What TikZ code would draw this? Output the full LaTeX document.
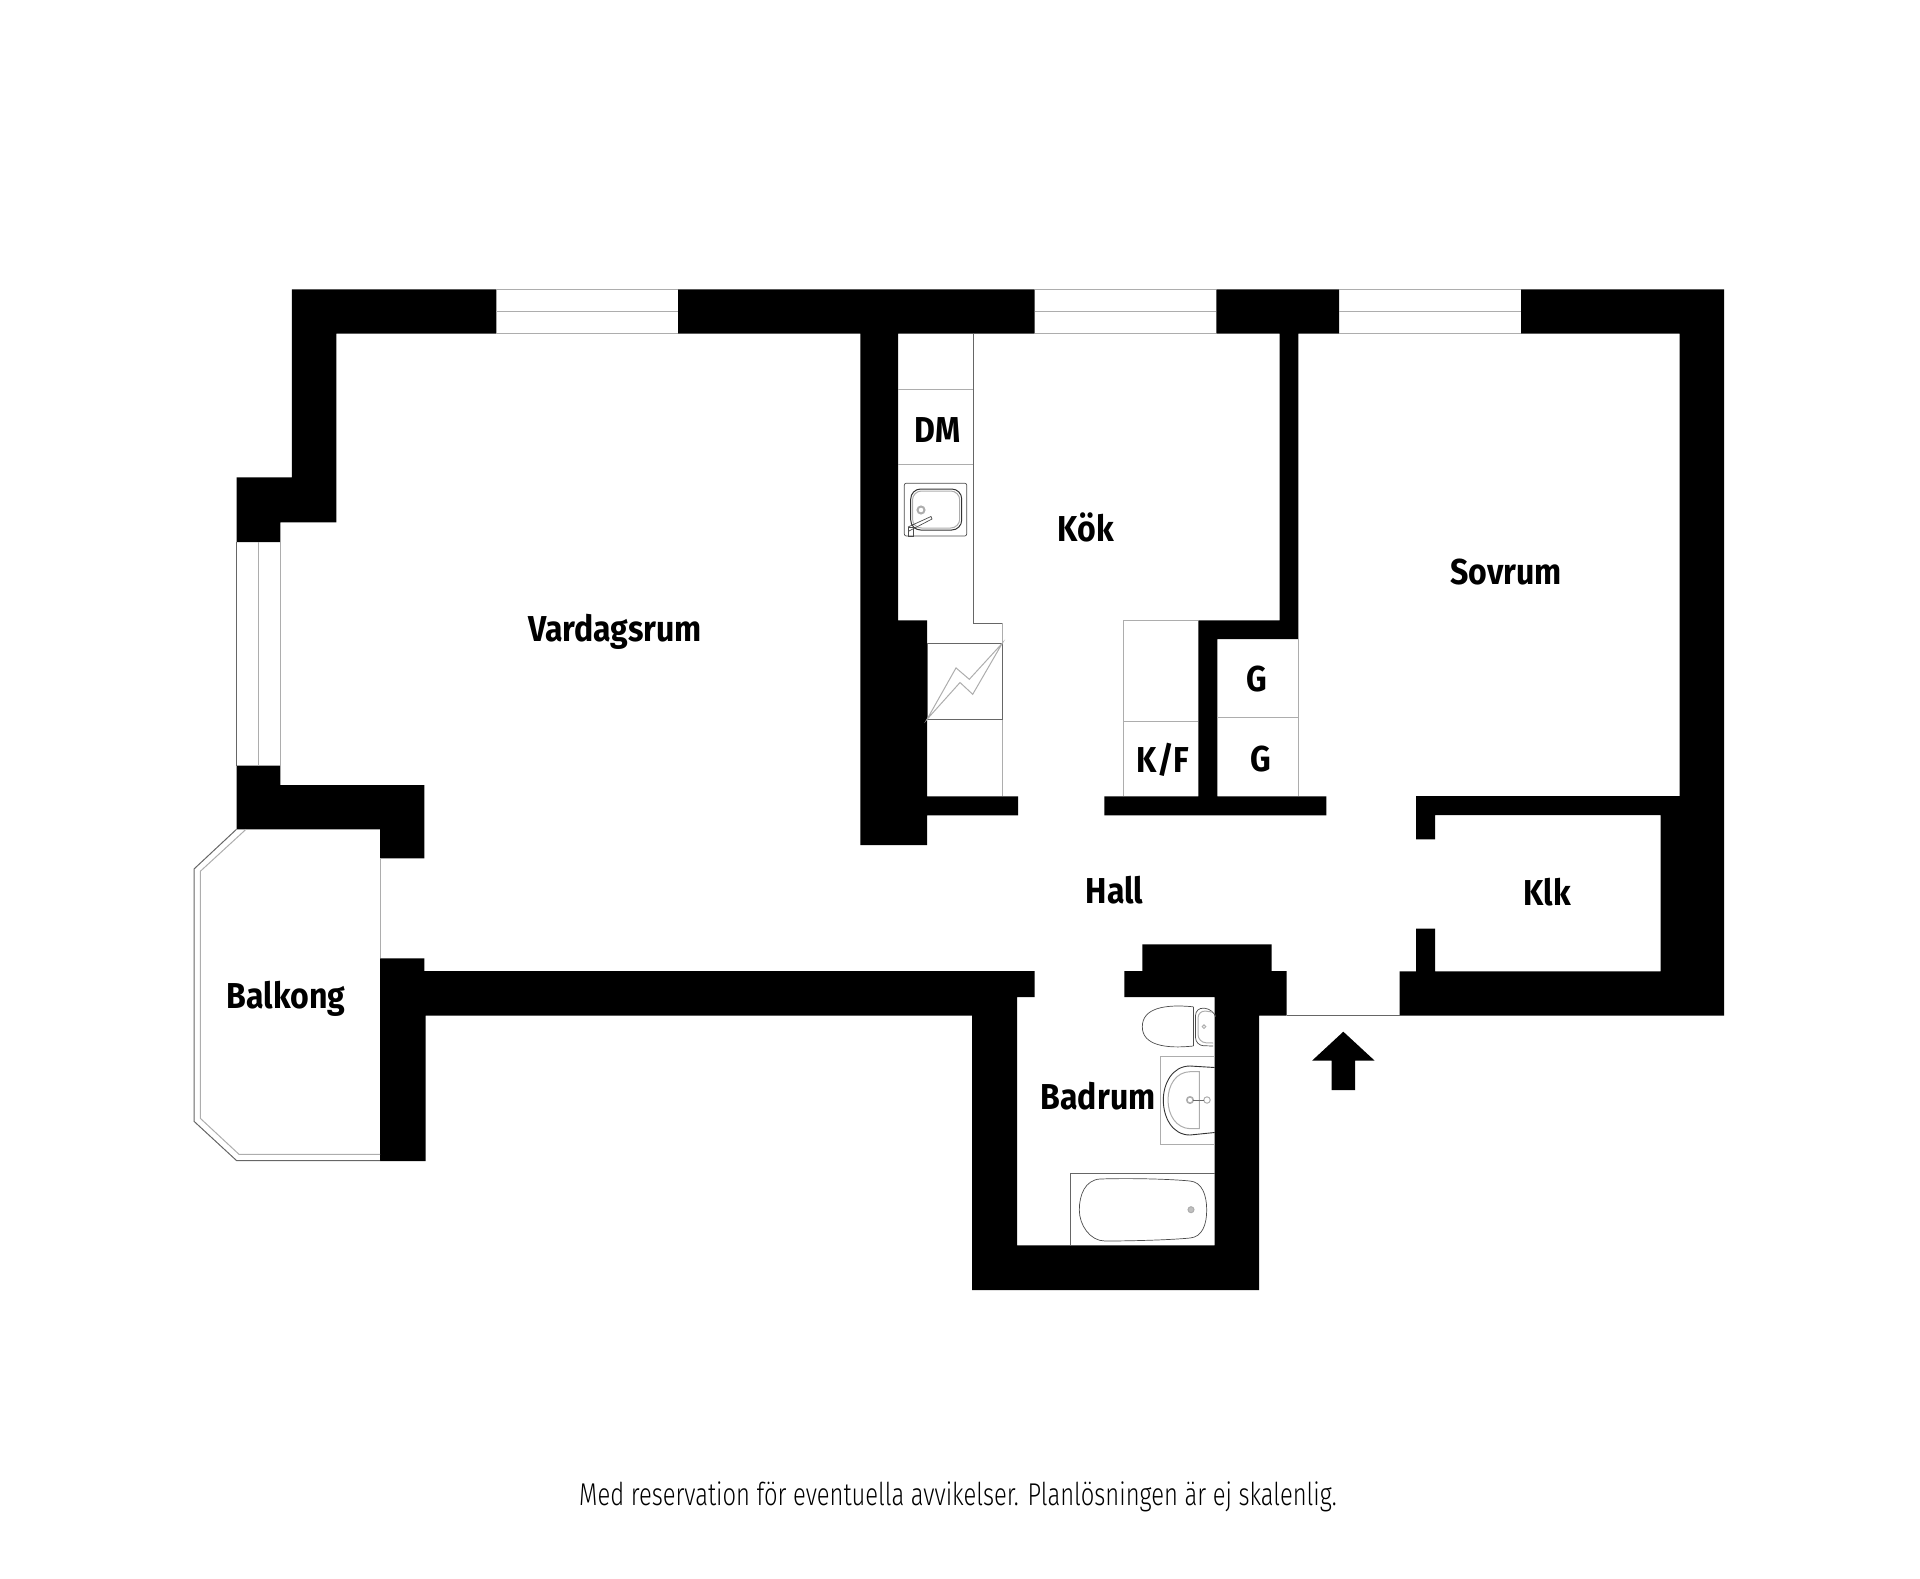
\documentclass[tikz,border=0pt]{standalone}
\usepackage{fontspec}
\newfontfamily\labelfont[FakeStretch=0.89]{Fira Sans}
\newfontfamily\footfont[FakeStretch=0.755]{Fira Sans Light}

\begin{document}
\begin{tikzpicture}[
	x=0.5pt, y=-0.5pt,
	wstyle/.style={fill=black},
	lstyle/.style={anchor=base, inner sep=0pt, font=\labelfont\bfseries\fontsize{18}{20}\selectfont},
	fstyle/.style={draw=black!32, line width=0.5pt},
	dstyle/.style={draw=black!60, line width=0.5pt},
	gstyle/.style={draw=black!70, line width=0.35pt}
	]
	\useasboundingbox (0,0) rectangle (1920,1578);

	% walls
	\fill[wstyle] (291.8,289.3) -- (496.3,289.3) -- (496.3,333.5) -- (336.3,333.5) -- (336.3,522.3) -- (280.4,522.3) -- (280.4,542) -- (236.5,542) -- (236.5,477.3) -- (291.8,477.3) -- cycle;
	\fill[wstyle] (236.5,765.7) -- (280.4,765.7) -- (280.4,785) -- (424.3,785) -- (424.3,858.3) -- (380,858.3) -- (380,829.3) -- (236.5,829.3) -- cycle;
	\fill[wstyle] (380,958.3) -- (424.3,958.3) -- (424.3,971) -- (1034.7,971) -- (1034.7,997) -- (1017,997) -- (1017,1245.3) -- (1214.7,1245.3) -- (1214.7,997) -- (1124.3,997) -- (1124.3,971) -- (1142.3,971) -- (1142.3,944.3) -- (1271.7,944.3) -- (1271.7,971) -- (1286.7,971) -- (1286.7,1015.7) -- (1259,1015.7) -- (1259,1290) -- (972,1290) -- (972,1015.7) -- (425.7,1015.7) -- (425.7,1161) -- (380,1161) -- cycle;
	\fill[wstyle] (678,289.3) -- (1034.7,289.3) -- (1034.7,333.5) -- (898,333.5) -- (898,620.4) -- (927,620.4) -- (927,796.4) -- (1018,796.4) -- (1018,815.4) -- (927,815.4) -- (927,845) -- (860.3,845) -- (860.3,333.5) -- (678,333.5) -- cycle;
	\fill[wstyle] (1216.3,289.3) -- (1339,289.3) -- (1339,333.5) -- (1298.3,333.5) -- (1298.3,639) -- (1217.3,639) -- (1217.3,796.4) -- (1326.3,796.4) -- (1326.3,815.4) -- (1104.3,815.4) -- (1104.3,796.4) -- (1198.3,796.4) -- (1198.3,620.4) -- (1279.7,620.4) -- (1279.7,333.5) -- (1216.3,333.5) -- cycle;
	\fill[wstyle] (1521,289.3) -- (1724,289.3) -- (1724,1015.7) -- (1399.7,1015.7) -- (1399.7,971.3) -- (1416,971.3) -- (1416,928.7) -- (1435,928.7) -- (1435,971.3) -- (1660.7,971.3) -- (1660.7,815) -- (1435,815) -- (1435,839.3) -- (1416,839.3) -- (1416,796) -- (1679.7,796) -- (1679.7,333.5) -- (1521,333.5) -- cycle;

	% windows
	\foreach \a/\b in {496.3/678, 1034.7/1216.3, 1339/1521} {
		\draw[fstyle] (\a,289.3) -- (\b,289.3);
		\draw[fstyle] (\a,311.6) -- (\b,311.6);
		\draw[fstyle] (\a,333.5) -- (\b,333.5);
	}
	\draw[dstyle] (236.5,542) -- (236.5,765.7);
	\draw[fstyle] (258.4,542) -- (258.4,765.7);
	\draw[fstyle] (280.4,542) -- (280.4,765.7);

	% balcony
	\draw[dstyle] (236.5,829.3) -- (194,869) -- (194,1121.3) -- (236.7,1160.7) -- (380,1160.7);
	\draw[fstyle] (246,829.3) -- (200.3,871.3) -- (200.3,1118.3) -- (239,1154.3) -- (380,1154.3);
	\draw[fstyle] (380,858.3) -- (380,958.3);

	% kitchen
	\draw[dstyle] (973.3,333.5) -- (973.3,623.2) -- (1002.3,623.2);
	\draw[fstyle] (898,389) -- (973.3,389);
	\draw[fstyle] (898,464.6) -- (973.3,464.6);
	\draw[fstyle] (1002.3,623.2) -- (1002.3,796.4);
	\draw[dstyle] (927,643.2) rectangle (1002.3,719.3);
	\draw[fstyle] (927,719.3) -- (956,667.9) -- (969.3,679.3) -- (1002.3,643.2) -- (972.7,694.3) -- (960,682.5) -- cycle;
	\draw[fstyle] (1123,796.4) -- (1123,620.4) -- (1198.3,620.4);
	\draw[fstyle] (1123,721) -- (1198.3,721);
	\draw[fstyle] (1298.3,639) -- (1298.3,796.4);
	\draw[fstyle] (1217.3,717.9) -- (1298.3,717.9);

	% kitchen sink
	\draw[gstyle, rounded corners=1pt] (904.3,483.2) rectangle (966.7,536);
	\draw[draw=black!80, line width=0.5pt, rounded corners=5pt] (910.7,489) rectangle (961.7,530);
	\draw[fstyle, rounded corners=4.5pt] (912.5,491) rectangle (959.7,528);
	\draw[fstyle, line width=1pt] (921,510) circle (3.5);
	\draw[gstyle] (908,527) -- (931,516.5) -- (932,519) -- (909,531);
	\draw[gstyle] (908,527) rectangle (913,536);

	% toilet
	\draw[gstyle] (1193.3,1006.8) .. controls (1165,1004) and (1142.3,1008) .. (1142.3,1026.7) .. controls (1142.3,1045) and (1165,1049) .. (1193.3,1046);
	\draw[gstyle] (1193.3,1006.8) -- (1193.3,1046);
	\draw[gstyle, rounded corners=4pt] (1213,1046) -- (1195.5,1045.5) -- (1195.5,1007.5) -- (1213,1009) -- (1214.7,1014);
	\draw[fstyle, rounded corners=4pt] (1213,1043) -- (1198,1042.5) -- (1198,1010) -- (1212,1012);
	\draw[fstyle] (1204,1026.7) circle (1.8);

	% basin
	\draw[fstyle] (1214.7,1056.7) -- (1160.3,1056.7) -- (1160.3,1144.3) -- (1214.7,1144.3);
	\draw[draw=black!80, line width=0.45pt] (1214.7,1067.5) -- (1190,1066) .. controls (1172,1066) and (1163.3,1084) .. (1163.3,1100) .. controls (1163.3,1117) and (1172,1135) .. (1190,1135) -- (1214.7,1132.5);
	\draw[fstyle] (1199.3,1071.7) -- (1190,1071.7) .. controls (1176,1072) and (1168,1085) .. (1168,1100) .. controls (1168,1115) and (1176,1128) .. (1190,1128.7) -- (1199.3,1128.7) -- cycle;
	\draw[fstyle, line width=0.8pt] (1190,1100) circle (3.2);
	\draw[fstyle] (1207,1100) circle (3.2);
	\draw[dstyle] (1193,1100) -- (1204,1100);

	% bath
	\draw[dstyle] (1214.7,1173.7) -- (1070.7,1173.7) -- (1070.7,1245.3);
	\draw[gstyle] (1100,1179) .. controls (1130,1178) and (1170,1179) .. (1190,1181) .. controls (1202,1182) and (1206.7,1195) .. (1206.7,1210) .. controls (1206.7,1225) and (1202,1237) .. (1190,1238) .. controls (1170,1240) and (1130,1241) .. (1105,1241) .. controls (1090,1241) and (1079.3,1225) .. (1079.3,1210) .. controls (1079.3,1195) and (1085,1180) .. (1100,1179) -- cycle;
	\draw[fstyle, fill=black!25] (1191,1209.7) circle (3);

	% entrance
	\draw[dstyle] (1286.7,1015.7) -- (1399.7,1015.7);
	\fill[wstyle] (1343.3,1031.7) -- (1374.7,1060.7) -- (1355,1060.7) -- (1355,1090) -- (1331.7,1090) -- (1331.7,1060.7) -- (1312,1060.7) -- cycle;

	% rooms
	\node[lstyle] (vardagsrum) at (615,641) {Vardagsrum};
	\node[lstyle] (kok) at (1085.7,541.4) {Kök};
	\node[lstyle] (sovrum) at (1506,584) {Sovrum};
	\node[lstyle] (hall) at (1114.5,903.7) {Hall};
	\node[lstyle] (klk) at (1547,905) {Klk};
	\node[lstyle] (balkong) at (286,1008.7) {Balkong};
	\node[lstyle] (badrum) at (1098,1109) {Badrum};
	\node[lstyle] (dm) at (937.3,442.5) {DM};
	\node[lstyle] (kf) at (1163,772) {K/F};
	\node[lstyle] (g1) at (1257.3,691.5) {G};
	\node[lstyle] (g2) at (1260.7,771) {G};
	\node[anchor=base, inner sep=0pt, font=\footfont\fontsize{15.75}{18}\selectfont] (note) at (958,1505) {Med reservation för eventuella avvikelser. Planlösningen är ej skalenlig.};
\end{tikzpicture}
\end{document}
